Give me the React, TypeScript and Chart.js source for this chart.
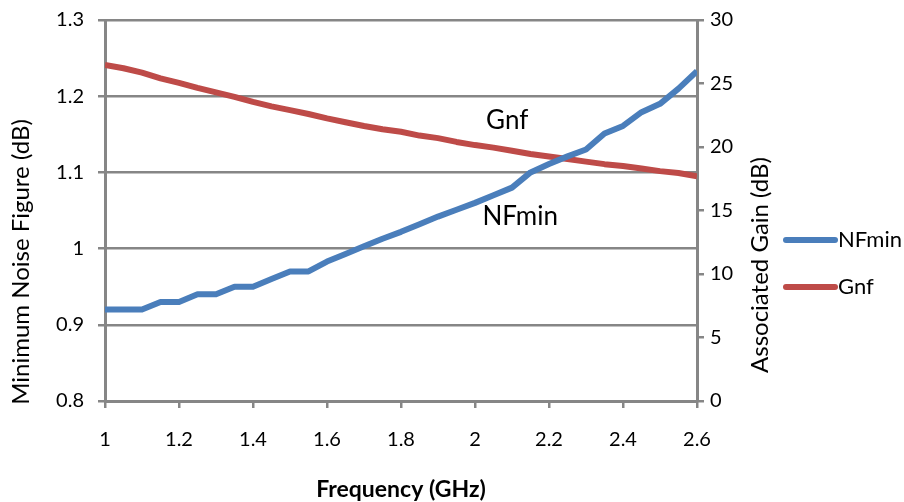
import React, { useEffect, useRef } from "react";
import { Chart, registerables } from "chart.js";

Chart.register(...registerables);

const freqGHz = [1.0, 1.05, 1.1, 1.15, 1.2, 1.25, 1.3, 1.35, 1.4, 1.45, 1.5, 1.55, 1.6, 1.65, 1.7, 1.75, 1.8, 1.85, 1.9, 1.95, 2.0, 2.05, 2.1, 2.15, 2.2, 2.25, 2.3, 2.35, 2.4, 2.45, 2.5, 2.55, 2.6];
const nfMin = [0.92, 0.92, 0.92, 0.93, 0.93, 0.94, 0.94, 0.95, 0.95, 0.96, 0.97, 0.97, 0.983, 0.993, 1.003, 1.013, 1.022, 1.032, 1.042, 1.051, 1.06, 1.07, 1.08, 1.1, 1.111, 1.121, 1.13, 1.151, 1.161, 1.179, 1.19, 1.21, 1.233];
const gnf = [26.46, 26.2, 25.85, 25.4, 25.05, 24.65, 24.3, 23.95, 23.55, 23.2, 22.9, 22.6, 22.25, 21.95, 21.65, 21.4, 21.2, 20.9, 20.7, 20.4, 20.15, 19.95, 19.7, 19.45, 19.25, 19.05, 18.85, 18.65, 18.5, 18.3, 18.1, 17.95, 17.7];
const xTicks = [1, 1.2, 1.4, 1.6, 1.8, 2, 2.2, 2.4, 2.6];
const leftTicks = [0.8, 0.9, 1, 1.1, 1.2, 1.3];
const rightTicks = [0, 5, 10, 15, 20, 25, 30];
const seriesNames = ["NFmin", "Gnf"];
const seriesColors = ["#4A7EBB", "#BE4B48"];
const xTitle = "Frequency (GHz)";
const leftTitle = "Minimum Noise Figure (dB)";
const rightTitle = "Associated Gain (dB)";

const FONT = "Lato, 'Open Sans', sans-serif";
const GRID = "#868686";

export default function App() {
  const ref = useRef<HTMLCanvasElement | null>(null);
  useEffect(() => {
    document.body.style.margin = "0";
    const canvas = ref.current!;
    const textPlugin = {
      id: "texts",
      afterDraw(chart: any) {
        const ctx = chart.ctx;
        const ca = chart.chartArea;
        const x = chart.scales.x;
        const yL = chart.scales.y;
        ctx.save();
        ctx.fillStyle = "#000";
        // x title
        ctx.font = `bold 23px ${FONT}`;
        ctx.textAlign = "center";
        ctx.textBaseline = "middle";
        ctx.fillText(xTitle, (ca.left + ca.right) / 2, 490);
        // left title
        ctx.font = `24px ${FONT}`;
        ctx.save();
        ctx.translate(21, 262);
        ctx.rotate(-Math.PI / 2);
        ctx.fillText(leftTitle, 0, 0);
        ctx.restore();
        // right title
        ctx.save();
        ctx.translate(760, 265);
        ctx.rotate(-Math.PI / 2);
        ctx.fillText(rightTitle, 0, 0);
        ctx.restore();
        // in-chart labels
        ctx.font = `26px ${FONT}`;
        ctx.textAlign = "left";
        ctx.fillText("Gnf", x.getPixelForValue(2.03), yL.getPixelForValue(1.168));
        ctx.fillText("NFmin", x.getPixelForValue(2.02), yL.getPixelForValue(1.042));
        // legend
        ctx.font = `22px ${FONT}`;
        const legY = [240, 287];
        seriesNames.forEach((n, i) => {
          ctx.strokeStyle = seriesColors[i];
          ctx.lineWidth = 6;
          ctx.lineCap = "round";
          ctx.beginPath();
          ctx.moveTo(786, legY[i]);
          ctx.lineTo(835, legY[i]);
          ctx.stroke();
          ctx.fillText(n, 838, legY[i]);
        });
        ctx.restore();
      },
    };
    const chart = new Chart(canvas, {
      type: "line",
      data: {
        datasets: [
          {
            label: seriesNames[0],
            data: freqGHz.map((f, i) => ({ x: f, y: nfMin[i] })),
            borderColor: seriesColors[0],
            backgroundColor: seriesColors[0],
            borderWidth: 6,
            pointRadius: 0,
            tension: 0,
            yAxisID: "y",
            borderJoinStyle: "round",
          },
          {
            label: seriesNames[1],
            data: freqGHz.map((f, i) => ({ x: f, y: gnf[i] })),
            borderColor: seriesColors[1],
            backgroundColor: seriesColors[1],
            borderWidth: 6,
            pointRadius: 0,
            tension: 0,
            yAxisID: "y1",
            borderJoinStyle: "round",
          },
        ],
      },
      options: {
        responsive: false,
        animation: false,
        layout: { padding: { top: 20, left: 0, right: 0, bottom: 0 } },
        plugins: { legend: { display: false }, tooltip: { enabled: false } },
        scales: {
          x: {
            type: "linear",
            min: 1,
            max: 2.6,
            afterBuildTicks: (s: any) => {
              s.ticks = xTicks.map((v) => ({ value: v }));
            },
            afterFit: (s: any) => {
              s.height = 101;
              s.paddingLeft = 0;
              s.paddingRight = 0;
            },
            ticks: {
              color: "#000",
              font: { family: FONT, size: 20 },
              padding: 20,
              maxRotation: 0,
              callback: (v: any) => String(v),
            },
            grid: { drawOnChartArea: false, drawTicks: true, tickLength: 7, color: GRID, lineWidth: 2.5 },
            border: { display: true, color: GRID, width: 3 },
          },
          y: {
            position: "left",
            min: 0.8,
            max: 1.3,
            afterBuildTicks: (s: any) => {
              s.ticks = leftTicks.map((v) => ({ value: v }));
            },
            afterFit: (s: any) => {
              s.width = 105;
              s.paddingTop = 0;
              s.paddingBottom = 0;
            },
            ticks: {
              color: "#000",
              font: { family: FONT, size: 20 },
              padding: 14,
              callback: (v: any) => String(v),
            },
            grid: { drawOnChartArea: true, drawTicks: true, tickLength: 7, color: GRID, lineWidth: 2.5 },
            border: { display: true, color: GRID, width: 3 },
          },
          y1: {
            position: "right",
            min: 0,
            max: 30,
            afterBuildTicks: (s: any) => {
              s.ticks = rightTicks.map((v) => ({ value: v }));
            },
            afterFit: (s: any) => {
              s.width = 207;
              s.paddingTop = 0;
              s.paddingBottom = 0;
            },
            ticks: {
              color: "#000",
              font: { family: FONT, size: 20 },
              padding: 6,
              callback: (v: any) => String(v),
            },
            grid: { drawOnChartArea: false, drawTicks: true, tickLength: 7, color: GRID, lineWidth: 2.5 },
            border: { display: true, color: GRID, width: 3 },
          },
        },
      },
      plugins: [textPlugin],
    } as any);
    return () => chart.destroy();
  }, []);
  return (
    <div style={{ position: "absolute", left: 0, top: 0, width: 904, height: 502, background: "#fff" }}>
      <canvas ref={ref} width={904} height={502} />
    </div>
  );
}
